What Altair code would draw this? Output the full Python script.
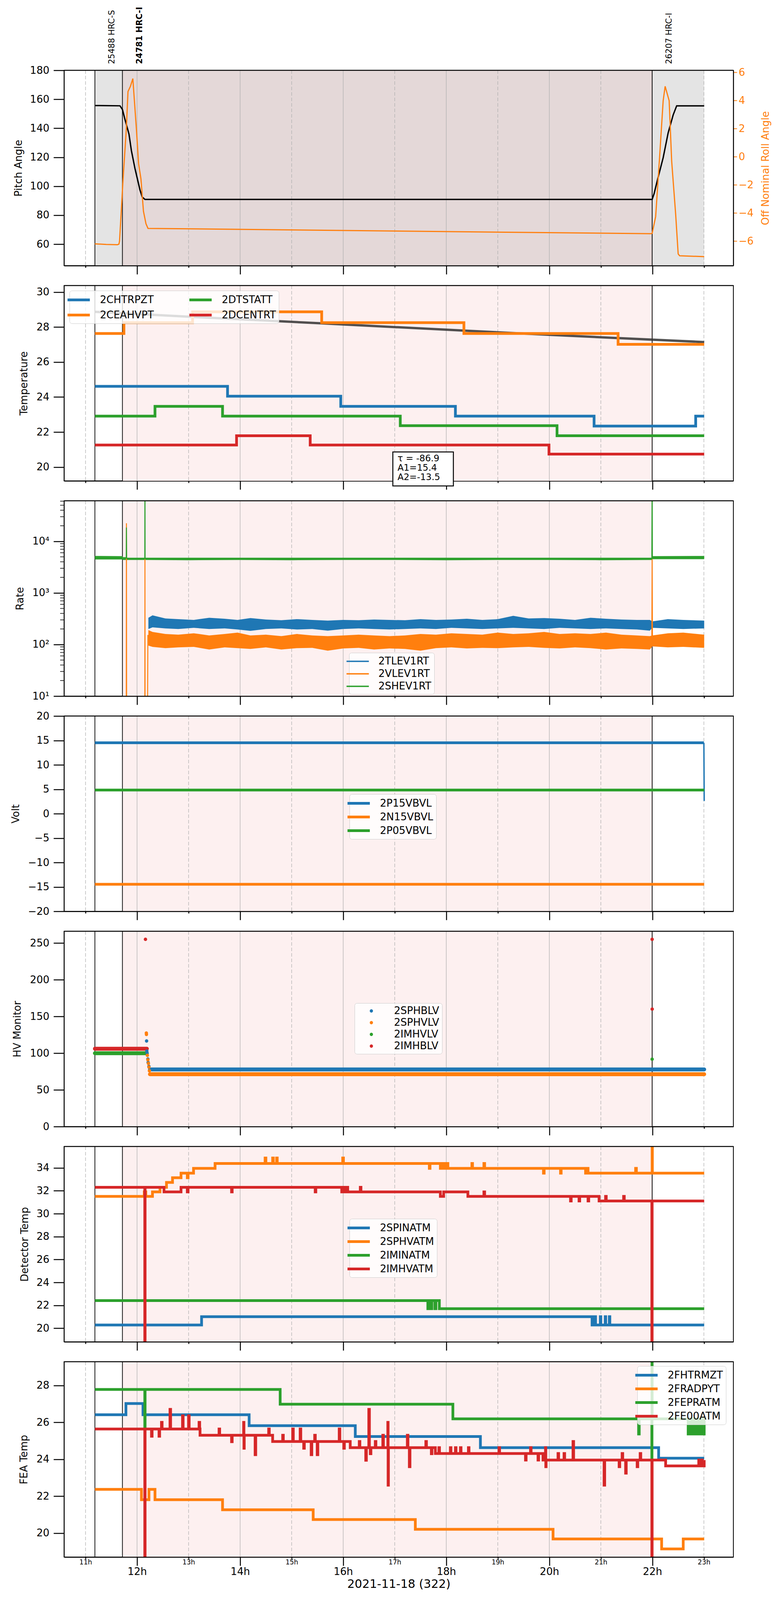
import altair as alt
import pandas as pd

FONT = "DejaVu Sans"
# the captured page is shorter than asked for, so every panel is compressed vertically
W, H = 1714, 500
SPACING = 51
X_DOMAIN = [10.583, 23.572]
BLUE, ORANGE, GREEN, RED = "#1f77b4", "#ff7f0e", "#2ca02c", "#d62728"
GRAY_TOP, MAIN_TOP, MAIN_LOW = "#e4e4e4", "#e4d8d8", "#fdf0f0"
GRID = "#b0b0b0"

# observations, times in hours of 2021-11-18
obs_names = ["25488 HRC-S", "24781 HRC-I", "26207 HRC-I"]
obs_start = [11.182, 11.716, 21.996]
obs_end = [11.716, 21.996, 23.006]
main_obs = "24781 HRC-I"
hours = [11, 12, 13, 14, 15, 16, 17, 18, 19, 20, 21, 22, 23]
major_hours = [12, 14, 16, 18, 20, 22]
minor_hours = [11, 13, 15, 17, 19, 21, 23]

# panel 1: pitch and off nominal roll
pitch = [(11.182, 155.7), (11.668, 155.5), (11.716, 153.0), (11.76, 146.8), (11.843, 136.0),
         (11.89, 124.6), (11.959, 112.3), (12.056, 97.5), (12.10, 92.6), (12.153, 90.9),
         (21.996, 90.9), (22.035, 95.0), (22.103, 104.9), (22.21, 119.7), (22.307, 136.9),
         (22.404, 149.2), (22.472, 155.5), (23.006, 155.5)]
roll = [(11.182, -6.20), (11.40, -6.24), (11.62, -6.26), (11.648, -6.22), (11.660, -6.0),
        (11.730, -1.5), (11.791, 1.93), (11.824, 4.64), (11.87, 5.0), (11.918, 5.56),
        (11.988, 1.93), (12.03, -0.5), (12.076, -1.59), (12.124, -3.88), (12.173, -4.77),
        (12.212, -5.10), (21.967, -5.48), (21.996, -5.45), (22.064, -4.26), (22.141, 0.0),
        (22.21, 3.99), (22.248, 5.01), (22.326, 3.99), (22.375, -0.32), (22.453, -4.13),
        (22.501, -6.92), (22.53, -7.05), (23.006, -7.11)]

# panel 2: temperatures (steps) and fitted curve
temp_names = ["2CHTRPZT", "2CEAHVPT", "2DTSTATT", "2DCENTRT"]
chtrpzt = [(11.182, 24.61), (13.756, 24.05), (15.953, 23.47), (18.178, 22.91), (20.869, 22.34),
           (22.841, 22.91), (23.006, 22.91)]
ceahvpt = [(11.182, 27.63), (11.745, 28.25), (13.077, 28.87), (15.583, 28.25), (18.343, 27.63),
           (21.335, 27.01), (23.006, 27.01)]
dtstatt = [(11.182, 22.91), (12.348, 23.47), (13.659, 22.91), (17.108, 22.36), (20.15, 21.79),
           (23.006, 21.79)]
dcentrt = [(11.182, 21.26), (13.931, 21.79), (15.36, 21.26), (19.994, 20.74), (23.006, 20.74)]
temp_fit = [(11.182, 28.87), (13.077, 28.58), (15.583, 28.21), (18.37, 27.79), (20.02, 27.55),
            (23.006, 27.14)]
fit_tau, fit_a1, fit_a2 = -86.9, 15.4, -13.5

# panel 3: event rates (noisy bands given as upper / lower envelopes)
rate_names = ["2TLEV1RT", "2VLEV1RT", "2SHEV1RT"]
band_t = [12.22, 12.30, 12.55, 12.8, 13.1, 13.4, 13.7, 13.95, 14.2, 14.5, 14.8, 15.1, 15.4,
          15.7, 16.0, 16.3, 16.6, 16.9, 17.2, 17.5, 17.8, 18.1, 18.4, 18.7, 19.0, 19.3, 19.6,
          19.9, 20.2, 20.5, 20.8, 21.1, 21.4, 21.7, 21.95, 22.0, 22.3, 22.6, 23.006]
tlev_hi = [330, 367, 320, 310, 300, 330, 315, 300, 325, 305, 295, 310, 300, 290, 300, 295, 305,
           300, 295, 310, 300, 305, 315, 300, 310, 360, 320, 325, 315, 300, 330, 315, 305, 300,
           300, 280, 310, 300, 290]
tlev_lo = [200, 215, 205, 200, 210, 200, 205, 195, 184, 200, 205, 195, 200, 185, 200, 205, 200,
           195, 200, 205, 200, 210, 205, 200, 205, 210, 205, 200, 210, 205, 200, 205, 200, 195,
           185, 210, 205, 200, 205]
vlev_hi = [190, 175, 160, 155, 165, 150, 160, 170, 150, 155, 145, 160, 150, 145, 150, 155, 150,
           145, 150, 160, 155, 165, 160, 155, 170, 160, 165, 175, 160, 165, 160, 170, 155, 150,
           145, 150, 165, 170, 155]
vlev_lo = [95, 90, 85, 88, 90, 80, 88, 85, 82, 88, 80, 85, 86, 76, 84, 86, 80, 84, 82, 76, 85,
           88, 84, 86, 85, 88, 90, 86, 84, 88, 85, 80, 84, 82, 80, 92, 88, 90, 86]
shev_t = [11.182, 11.716, 11.73, 12.2, 13.0, 14.0, 15.0, 16.0, 17.0, 18.0, 19.0, 20.0, 21.0,
          21.99, 22.0, 23.006]
shev_hi = [5200, 5150, 4750, 4750, 4700, 4750, 4700, 4750, 4700, 4750, 4750, 4700, 4750, 4700,
           5150, 5200]
shev_lo = [4450, 4450, 4350, 4350, 4300, 4350, 4300, 4350, 4350, 4300, 4350, 4350, 4300, 4350,
           4500, 4500]
vlev_spikes = [(11.182, 1), (11.790, 1), (11.794, 22400), (11.798, 1), (12.150, 1),
               (12.153, 4500), (12.156, 1), (12.200, 1), (12.210, 150), (21.990, 120),
               (21.996, 4500), (22.002, 120)]
shev_spikes = [(11.182, 4900), (11.60, 5000), (11.716, 4850), (11.790, 4800), (11.794, 18500),
               (11.798, 4700), (12.150, 4700), (12.153, 200000), (12.156, 4700), (21.990, 4700),
               (21.996, 200000), (22.000, 4800), (23.006, 4900)]
rate_decades = [10, 100, 1000, 10000]
rate_minor = [20, 30, 40, 50, 60, 70, 80, 90, 200, 300, 400, 500, 600, 700, 800, 900, 2000,
              3000, 4000, 5000, 6000, 7000, 8000, 9000, 20000, 30000, 40000, 50000, 60000]

# panel 4: voltages
volt_names = ["2P15VBVL", "2N15VBVL", "2P05VBVL"]
p15vbvl = [(11.182, 14.52), (23.0, 14.52)]
p15_drop = [(23.0, 14.52), (23.006, 2.6)]
n15vbvl = [(11.182, -14.45), (23.006, -14.45)]
p05vbvl = [(11.182, 4.84), (23.006, 4.84)]

# panel 5: HV monitors (dense runs of points and isolated points)
hv_names = ["2SPHBLV", "2SPHVLV", "2IMHVLV", "2IMHBLV"]
hv_runs = {"2SPHBLV": [(12.25, 77.8), (23.006, 77.8)],
           "2SPHVLV": [(12.25, 71.3), (23.006, 71.3)],
           "2IMHVLV": [(11.182, 99.9), (12.19, 99.9)],
           "2IMHBLV": [(11.182, 106.0), (12.19, 106.0)]}
hv_points = {"2SPHBLV": [(12.185, 116.6), (12.19, 102.8), (12.195, 100.0), (12.21, 92.0),
                         (12.215, 87.4), (12.23, 82.0)],
             "2SPHVLV": [(12.18, 127.4), (12.182, 125.5), (12.20, 97.0), (12.21, 91.0),
                         (12.22, 86.0), (12.23, 81.0), (12.24, 76.0)],
             "2IMHVLV": [(21.996, 91.8)],
             "2IMHBLV": [(12.163, 255.0), (21.996, 255.0), (21.997, 160.0)]}

# panel 6: detector temperatures
det_names = ["2SPINATM", "2SPHVATM", "2IMINATM", "2IMHVATM"]
spinatm = [(11.182, 20.29), (13.252, 21.01), (20.83, 20.29), (20.87, 21.01), (20.898, 20.29),
           (20.99, 21.01), (21.0, 20.29), (21.085, 21.01), (21.095, 20.29), (21.165, 21.01),
           (21.175, 20.29), (23.006, 20.29)]
sphvatm = [(11.182, 31.51), (12.14, 31.91), (12.17, 31.51), (12.299, 31.91), (12.445, 32.31),
           (12.571, 32.73), (12.688, 33.14), (12.853, 33.54), (12.975, 33.14), (12.99, 33.54),
           (13.096, 33.96), (13.514, 34.39), (14.485, 34.86), (14.50, 34.39), (14.631, 34.86),
           (14.645, 34.39), (14.709, 34.86), (14.72, 34.39), (15.991, 34.86), (16.005, 34.39),
           (17.672, 33.96), (17.685, 34.39), (17.886, 33.96), (17.90, 34.39), (17.935, 33.96),
           (17.95, 34.39), (17.983, 33.96), (18.0, 34.39), (18.032, 33.96), (18.498, 34.39),
           (18.51, 33.96), (18.731, 34.39), (18.745, 33.96), (19.887, 33.54), (19.90, 33.96),
           (20.218, 33.54), (20.23, 33.96), (20.704, 33.54), (20.73, 33.96), (20.752, 33.54),
           (21.675, 33.96), (21.69, 33.54), (21.996, 40.0), (22.0, 33.54), (23.006, 33.54)]
iminatm = [(11.182, 22.42), (17.643, 21.71), (17.66, 22.42), (17.70, 21.71), (17.72, 22.42),
           (17.78, 21.71), (17.80, 22.42), (17.866, 21.71), (23.006, 21.71)]
imhvatm = [(11.182, 32.31), (12.150, 15.0), (12.156, 32.31), (12.523, 31.91), (12.853, 32.31),
           (12.975, 31.91), (12.99, 32.31), (13.834, 31.91), (13.846, 32.31), (15.457, 31.91),
           (15.469, 32.31), (15.972, 31.91), (16.0, 32.31), (16.03, 31.91), (16.06, 32.31),
           (16.088, 31.91), (16.332, 32.31), (16.345, 31.91), (17.886, 31.51), (17.95, 31.91),
           (18.42, 31.51), (18.731, 31.91), (18.745, 31.51), (20.412, 31.11), (20.425, 31.51),
           (20.577, 31.11), (20.59, 31.51), (20.752, 31.11), (20.765, 31.51), (20.966, 31.11),
           (21.092, 31.51), (21.105, 31.11), (21.442, 31.51), (21.455, 31.11), (21.990, 15.0),
           (21.996, 31.11), (23.006, 31.11)]

# panel 7: FEA temperatures
fea_names = ["2FHTRMZT", "2FRADPYT", "2FEPRATM", "2FE00ATM"]
fhtrmzt = [(11.182, 26.41), (11.784, 27.02), (12.115, 26.41), (14.175, 25.82), (16.235, 25.23),
           (18.663, 24.63), (22.122, 24.06), (23.006, 24.06)]
fradpyt = [(11.182, 22.37), (12.085, 21.81), (12.231, 22.37), (12.348, 21.81), (13.659, 21.27),
           (15.418, 20.74), (17.4, 20.21), (20.073, 19.69), (22.18, 19.15), (22.599, 19.69),
           (23.006, 19.69)]
fepratm = [(11.182, 27.78), (12.150, 25.67), (12.156, 27.78), (14.777, 26.98), (18.129, 26.19),
           (21.733, 25.37), (21.745, 26.19), (21.990, 24.0), (21.993, 30.0), (21.996, 26.19),
           (22.695, 25.37), (22.72, 26.19), (22.75, 25.37), (22.78, 26.19), (22.81, 25.37),
           (22.84, 26.19), (22.87, 25.37), (22.90, 26.19), (22.93, 25.37), (22.96, 26.19),
           (22.99, 25.37), (23.006, 26.19)]
fe00atm = [(11.182, 25.64), (12.150, 15.0), (12.156, 25.64), (12.280, 25.25), (12.292, 25.64),
           (12.426, 25.25), (12.438, 25.64), (12.474, 26.0), (12.486, 25.64), (12.639, 26.7),
           (12.651, 25.64), (12.882, 26.35), (12.894, 25.64), (12.999, 26.35), (13.011, 25.64),
           (13.203, 26.0), (13.215, 25.64), (13.222, 25.30), (13.591, 25.64), (13.603, 25.30),
           (13.834, 24.95), (13.846, 25.30), (14.068, 26.0), (14.074, 24.6), (14.080, 25.30),
           (14.291, 24.25), (14.303, 25.30), (14.554, 25.64), (14.566, 25.30), (14.631, 24.96),
           (14.826, 25.30), (14.838, 24.96), (15.020, 25.64), (15.032, 24.96), (15.165, 25.64),
           (15.177, 24.96), (15.234, 24.6), (15.246, 24.96), (15.379, 24.25), (15.391, 24.96),
           (15.447, 25.30), (15.459, 24.96), (15.496, 24.25), (15.508, 24.96), (15.923, 25.64),
           (15.935, 24.96), (16.011, 24.6), (16.023, 24.96), (16.137, 24.63), (16.312, 24.96),
           (16.324, 24.63), (16.438, 23.95), (16.450, 24.63), (16.497, 26.7), (16.509, 24.63),
           (16.526, 24.3), (16.538, 24.63), (16.623, 24.96), (16.635, 24.63), (16.769, 25.30),
           (16.781, 24.63), (16.866, 26.0), (16.872, 22.6), (16.878, 24.63), (17.245, 25.30),
           (17.257, 24.63), (17.284, 23.6), (17.296, 24.63), (17.604, 24.96), (17.616, 24.63),
           (17.711, 24.3), (17.723, 24.63), (17.789, 24.31), (17.857, 24.63), (17.869, 24.31),
           (18.080, 24.63), (18.092, 24.31), (18.178, 24.63), (18.190, 24.31), (18.275, 24.63),
           (18.287, 24.31), (18.430, 24.63), (18.442, 24.31), (19.023, 24.63), (19.035, 24.31),
           (19.538, 23.96), (19.550, 24.31), (19.635, 24.63), (19.647, 24.31), (19.781, 23.96),
           (19.793, 24.31), (19.877, 23.96), (19.926, 24.63), (19.932, 23.6), (19.938, 23.96),
           (20.169, 24.31), (20.181, 23.96), (20.286, 24.31), (20.298, 23.96), (20.460, 24.96),
           (20.472, 23.96), (21.063, 22.6), (21.075, 23.96), (21.355, 23.6), (21.367, 23.96),
           (21.413, 24.31), (21.425, 23.96), (21.481, 23.25), (21.493, 23.96), (21.705, 23.6),
           (21.717, 23.96), (21.763, 24.31), (21.775, 23.96), (21.990, 15.0), (21.996, 23.96),
           (22.258, 23.64), (22.90, 23.96), (22.92, 23.64), (22.95, 23.96), (22.97, 23.64),
           (23.006, 23.96)]


def frame(named):
    rows = [{"t": t, "v": v, "series": name} for name, pts in named for t, v in pts]
    return pd.DataFrame(rows)


obs_df = pd.DataFrame({"obsid": obs_names, "start": obs_start, "end": obs_end})
one = pd.DataFrame({"a": [0]})
EVEN = "datum.value % 2 == 0"


def x_enc(field, last, z=1):
    axis = alt.Axis(
        values=hours, labels=last, labelExpr="datum.value + 'h'",
        tickSize={"condition": {"test": EVEN, "value": 22}, "value": 5},
        labelFontSize={"condition": {"test": EVEN, "value": 26}, "value": 17},
        labelPadding={"condition": {"test": EVEN, "value": 2}, "value": 0},
        tickWidth=2.5, tickColor="black", domainColor="black", domainWidth=2.5,
        labelFont=FONT, labelColor="black", labelFlush=False, labelOverlap=False,
        grid=False, zindex=z, titleFont=FONT, titleFontSize=30, titleFontWeight="normal",
        titleColor="black", titleY=69, titleBaseline="middle")
    return alt.X(f"{field}:Q", scale=alt.Scale(domain=X_DOMAIN, nice=False, zero=False),
                 axis=axis, title="2021-11-18 (322)" if last else None)


def y_enc(title, domain, values, title_x, log=False, field="v"):
    axis = alt.Axis(
        values=values, titleX=title_x, titleY=H / 2, titleAngle=270, titleAlign="center",
        titleBaseline="middle", titleFont=FONT, titleFontSize=26, titleFontWeight="normal",
        titleColor="black", labelFont=FONT, labelFontSize=26, labelColor="black",
        tickColor="black", tickSize=27, tickWidth=2.5, labelPadding=11, domainColor="black",
        domainWidth=2, grid=False, zindex=1, labelFlush=False, labelOverlap=False,
        labelExpr=("datum.value == 10 ? '10¹' : datum.value == 100 ? '10²' : "
                   "datum.value == 1000 ? '10³' : '10⁴'") if log else "datum.label")
    scale = alt.Scale(domain=domain, nice=False, zero=False, type="log" if log else "linear")
    return alt.Y(f"{field}:Q", scale=scale, axis=axis, title=title)


def legend(x, y, stroke=7.0, columns=1, circle=False, row_pad=4):
    args = dict(orient="none", legendX=x, legendY=y, title=None, labelFont=FONT,
                labelFontSize=26, labelColor="black", fillColor="rgba(255,255,255,0.8)",
                strokeColor="#cccccc", cornerRadius=6, padding=7, rowPadding=row_pad,
                labelLimit=400, columns=columns, columnPadding=76)
    if circle:
        args.update(symbolType="circle", symbolSize=70, symbolOffset=23, labelOffset=45)
    else:
        args.update(symbolType="M-2.2,0L2.2,0", symbolSize=676, symbolStrokeWidth=stroke,
                    labelOffset=38)
    return alt.Legend(**args)


def base_layers(last, top=False, z=1):
    obs = alt.Chart(obs_df)
    if top:
        shade = obs.mark_rect().encode(
            x=x_enc("start", last, z), x2="end:Q",
            color=alt.condition(alt.datum.obsid == main_obs, alt.value(MAIN_TOP),
                                alt.value(GRAY_TOP)))
    else:
        shade = obs.transform_filter(alt.datum.obsid == main_obs).mark_rect(
            color=MAIN_LOW).encode(x=x_enc("start", last, z), x2="end:Q")
    major = alt.Chart(pd.DataFrame({"h": major_hours})).mark_rule(
        color=GRID, strokeWidth=1.3).encode(x=x_enc("h", last, z))
    minor = alt.Chart(pd.DataFrame({"h": minor_hours})).mark_rule(
        color=GRID, strokeWidth=1.3, strokeDash=[9, 5]).encode(x=x_enc("h", last, z))
    bounds = obs.mark_rule(color="black", strokeWidth=1.8).encode(x=x_enc("start", last, z))
    return [shade, major, minor, bounds]


def edge_layers():
    top_edge = alt.Chart(one).mark_rule(color="black", strokeWidth=2.5).encode(
        x=alt.value(0), x2=alt.value(W), y=alt.value(0))
    right_edge = alt.Chart(one).mark_rule(color="black", strokeWidth=2).encode(
        x=alt.value(W), y=alt.value(0), y2=alt.value(H))
    return [top_edge, right_edge]


def color_enc(names, colors, leg):
    return alt.Color("series:N", scale=alt.Scale(domain=names, range=colors), legend=leg)


# ---- panel 1 ----
y1 = y_enc("Pitch Angle", [45.2, 180], [60, 80, 100, 120, 140, 160, 180], -117)
pitch_line = alt.Chart(frame([("pitch", pitch)])).mark_line(
    color="black", strokeWidth=3.5).encode(x=x_enc("t", False), y=y1)
obs_text = alt.Chart(obs_df).transform_filter(alt.datum.obsid != main_obs).mark_text(
    angle=270, align="left", baseline="middle", dy=44, fontSize=21, font=FONT,
    color="black").encode(x=x_enc("start", False), y=alt.value(-16), text="obsid:N")
obs_text_main = alt.Chart(obs_df).transform_filter(alt.datum.obsid == main_obs).mark_text(
    angle=270, align="left", baseline="middle", dy=44, fontSize=21, font=FONT,
    fontWeight="bold", color="black").encode(
    x=x_enc("start", False), y=alt.value(-16), text="obsid:N")
roll_axis = alt.Axis(
    orient="right", values=[-6, -4, -2, 0, 2, 4, 6], titleX=82, titleY=H / 2, titleAngle=270,
    titleAlign="center", titleBaseline="middle", titleFont=FONT, titleFontSize=26,
    titleFontWeight="normal", titleColor=ORANGE, labelFont=FONT, labelFontSize=26,
    labelColor=ORANGE, tickColor=ORANGE, tickSize=9, tickWidth=2, labelPadding=4,
    domainColor="black", domainWidth=2, grid=False, zindex=1, labelFlush=False)
roll_line = alt.Chart(frame([("roll", roll)])).mark_line(color=ORANGE, strokeWidth=3).encode(
    x=x_enc("t", False),
    y=alt.Y("v:Q", scale=alt.Scale(domain=[-7.75, 6.15], nice=False, zero=False),
            axis=roll_axis, title="Off Nominal Roll Angle"))
left1 = alt.layer(*base_layers(False, top=True), pitch_line, obs_text, obs_text_main,
                  *edge_layers())
p1 = alt.layer(left1, roll_line).resolve_scale(y="independent").properties(width=W, height=H)

# ---- panel 2 (x axis kept under the fit box, as in the reference) ----
y2 = y_enc("Temperature", [19.21, 30.37], [20, 22, 24, 26, 28, 30], -103)
temp_df = frame(zip(temp_names, [chtrpzt, ceahvpt, dtstatt, dcentrt]))
temp_lines = alt.Chart(temp_df).mark_line(interpolate="step-after", strokeWidth=7).encode(
    x=x_enc("t", False, 0), y=y2,
    color=color_enc(temp_names, [BLUE, ORANGE, GREEN, RED],
                    legend(14, 13, columns=2, row_pad=8)))
fit_line = alt.Chart(frame([("fit", temp_fit)])).mark_line(
    color="#333333", opacity=0.85, strokeWidth=6).encode(x=x_enc("t", False, 0), y=y2)
fit_box = alt.Chart(one).mark_rect(fill="white", stroke="black", strokeWidth=2.5).encode(
    x=alt.value(842), x2=alt.value(997), y=alt.value(426), y2=alt.value(513))
fit_text = alt.Chart(one).mark_text(
    align="left", baseline="top", fontSize=23, lineHeight=24, font=FONT, color="black").encode(
    x=alt.value(854), y=alt.value(432),
    text=alt.value([f"τ = {fit_tau}", f"A1={fit_a1}", f"A2={fit_a2}"]))
p2 = alt.layer(*base_layers(False, z=0), fit_line, temp_lines, fit_box, fit_text,
               *edge_layers()).properties(width=W, height=H)

# ---- panel 3 ----
RATE_DOMAIN = [10, 61000]
y3 = y_enc("Rate", RATE_DOMAIN, rate_decades, -113, log=True)
band_df = pd.DataFrame({"t": band_t, "thi": tlev_hi, "tlo": tlev_lo,
                        "vhi": vlev_hi, "vlo": vlev_lo})
shev_df = pd.DataFrame({"t": shev_t, "hi": shev_hi, "lo": shev_lo})
tlev_band = alt.Chart(band_df).mark_area(color=BLUE, clip=True).encode(
    x=x_enc("t", False), y=y_enc("Rate", RATE_DOMAIN, rate_decades, -113, True, "thi"),
    y2="tlo:Q")
vlev_band = alt.Chart(band_df).mark_area(color=ORANGE, clip=True).encode(
    x=x_enc("t", False), y=y_enc("Rate", RATE_DOMAIN, rate_decades, -113, True, "vhi"),
    y2="vlo:Q")
shev_band = alt.Chart(shev_df).mark_area(color=GREEN, clip=True).encode(
    x=x_enc("t", False), y=y_enc("Rate", RATE_DOMAIN, rate_decades, -113, True, "hi"),
    y2="lo:Q")
minor_ticks = alt.Chart(pd.DataFrame({"m": rate_minor})).mark_rule(
    color="black", strokeWidth=1.5).encode(
    y=y_enc("Rate", RATE_DOMAIN, rate_decades, -113, True, "m"),
    x=alt.value(-10), x2=alt.value(0))
rate_lines = alt.Chart(frame([("2VLEV1RT", vlev_spikes), ("2SHEV1RT", shev_spikes)])).mark_line(
    strokeWidth=2.5, clip=True).encode(
    x=x_enc("t", False), y=y3,
    color=color_enc(rate_names, [BLUE, ORANGE, GREEN], legend(730, 389, stroke=3.5)))
p3 = alt.layer(*base_layers(False), tlev_band, vlev_band, shev_band, rate_lines, minor_ticks,
               *edge_layers()).properties(width=W, height=H)

# ---- panel 4 ----
y4 = y_enc("Volt", [-20, 20], [-20, -15, -10, -5, 0, 5, 10, 15, 20], -124)
volt_lines = alt.Chart(frame(zip(volt_names, [p15vbvl, n15vbvl, p05vbvl]))).mark_line(
    strokeWidth=7).encode(
    x=x_enc("t", False), y=y4,
    color=color_enc(volt_names, [BLUE, ORANGE, GREEN], legend(731, 200)))
volt_drop = alt.Chart(frame([("2P15VBVL", p15_drop)])).mark_line(
    color=BLUE, strokeWidth=3.5).encode(x=x_enc("t", False), y=y4)
p4 = alt.layer(*base_layers(False), volt_drop, volt_lines,
               *edge_layers()).properties(width=W, height=H)

# ---- panel 5 ----
y5 = y_enc("HV Monitor", [0, 266], [0, 50, 100, 150, 200, 250], -120)
hv_colors = [BLUE, ORANGE, GREEN, RED]
run_df = frame(hv_runs.items())
hv_run_layers = [
    alt.Chart(run_df).transform_filter(alt.datum.series == name).mark_line(
        color=col, strokeWidth=10, strokeCap="round").encode(x=x_enc("t", False), y=y5)
    for name, col in zip(hv_names, hv_colors)]
hv_dots = alt.Chart(frame(hv_points.items())).mark_circle(size=75, opacity=1).encode(
    x=x_enc("t", False), y=y5,
    color=color_enc(hv_names, hv_colors, legend(744, 184, circle=True)))
p5 = alt.layer(*base_layers(False), *hv_run_layers, hv_dots,
               *edge_layers()).properties(width=W, height=H)

# ---- panel 6 ----
y6 = y_enc("Detector Temp", [18.82, 35.87], [20, 22, 24, 26, 28, 30, 32, 34], -101)
det_lines = alt.Chart(frame(zip(det_names, [spinatm, sphvatm, iminatm, imhvatm]))).mark_line(
    interpolate="step-after", strokeWidth=7, clip=True).encode(
    x=x_enc("t", False), y=y6,
    color=color_enc(det_names, hv_colors, legend(731, 185)))
p6 = alt.layer(*base_layers(False), det_lines, *edge_layers()).properties(width=W, height=H)

# ---- panel 7 ----
y7 = y_enc("FEA Temp", [18.71, 29.28], [20, 22, 24, 26, 28], -103)
fea_lines = alt.Chart(frame(zip(fea_names, [fhtrmzt, fradpyt, fepratm, fe00atm]))).mark_line(
    interpolate="step-after", strokeWidth=7, clip=True).encode(
    x=x_enc("t", True), y=y7,
    color=color_enc(fea_names, hv_colors, legend(1468, 11)))
p7 = alt.layer(*base_layers(True), fea_lines, *edge_layers()).properties(width=W, height=H)

chart = alt.vconcat(p1, p2, p3, p4, p5, p6, p7, spacing=SPACING, bounds="flush").resolve_scale(
    color="independent").properties(
    padding={"left": 18, "top": 8, "right": 5, "bottom": 0}, background="white").configure(
    font=FONT).configure_view(stroke="black", strokeWidth=2)

chart.save("out.html", embed_options={"renderer": "svg", "actions": False})
